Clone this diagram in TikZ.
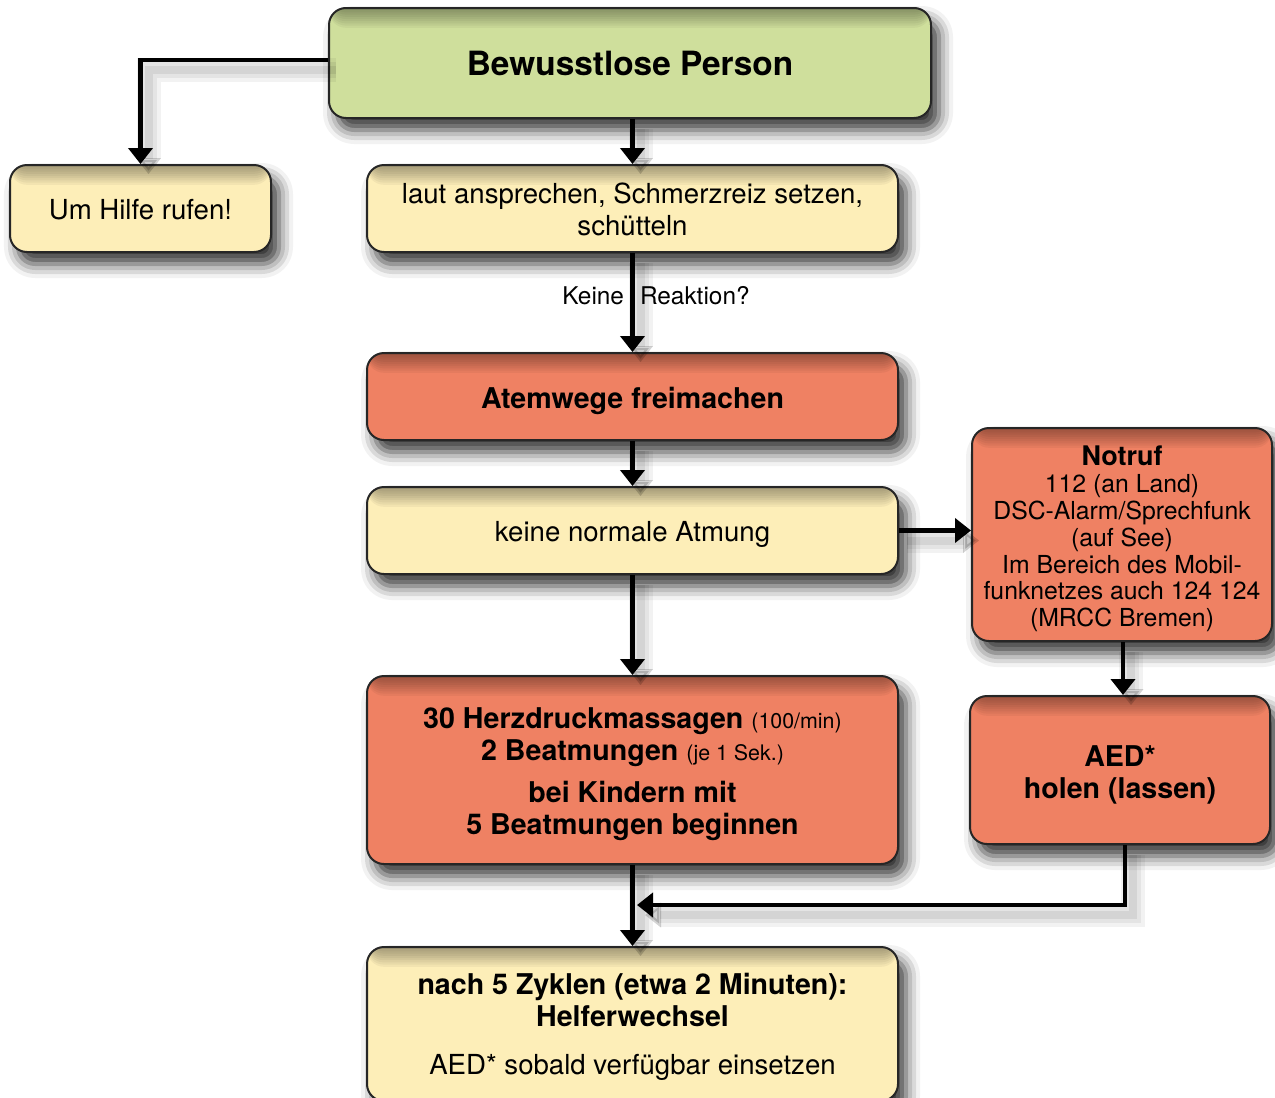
\documentclass[tikz,border=0pt]{standalone}
\usepackage{fontspec}
\setmainfont{TeX Gyre Heros}
\usetikzlibrary{arrows.meta,shadows.blur}
\definecolor{cgreen}{HTML}{CFDF9C}
\definecolor{cyellow}{HTML}{FDEEB8}
\definecolor{csalmon}{HTML}{EF8163}
\tikzset{
  box/.style={rectangle, rounded corners=8.5pt, draw=black!85, line width=1pt, fill=#1,
    inner sep=0pt,
    blur shadow={shadow xshift=4pt, shadow yshift=-6pt, shadow blur radius=7pt, shadow opacity=80},
    path picture={\foreach \k in {1,...,9}{\fill[black, opacity=0.045]
      (path picture bounding box.north west) rectangle ([yshift=-\k*1.1pt]path picture bounding box.north east);}}},
  conn/.style={line width=2.3pt, -{Triangle[width=12pt,length=8pt]},
    preaction={draw=black, opacity=0.05, line width=12pt, transform canvas={shift={(4pt,-5pt)}}},
    preaction={draw=black, opacity=0.06, line width=8pt, transform canvas={shift={(4pt,-5pt)}}},
    preaction={draw=black, opacity=0.07, line width=4pt, transform canvas={shift={(4pt,-5pt)}}}},
  txt/.style={align=center, inner sep=0pt, font=\fontsize{13.8}{16}\selectfont},
  btxt/.style={align=center, inner sep=0pt, font=\fontsize{14.3}{16}\selectfont\bfseries},
}
\begin{document}
\begin{tikzpicture}[x=0.5pt,y=-0.5pt]
\useasboundingbox (0,0) rectangle (1275,1098);
% boxes
\node[box=cgreen, minimum width=301pt, minimum height=55pt] (start) at (630,63) {};
\node[box=cyellow, minimum width=130.5pt, minimum height=43.5pt] (hilfe) at (140.5,208.5) {};
\node[box=cyellow, minimum width=265.5pt, minimum height=43.5pt] (laut) at (632.5,208.5) {};
\node[box=csalmon, minimum width=265.5pt, minimum height=43.5pt] (atem) at (632.5,396.5) {};
\node[box=cyellow, minimum width=265.5pt, minimum height=43.5pt] (keine) at (632.5,530.5) {};
\node[box=csalmon, minimum width=150pt, minimum height=106.5pt] (notruf) at (1122,534.5) {};
\node[box=csalmon, minimum width=150pt, minimum height=74pt] (aed) at (1120,770) {};
\node[box=csalmon, minimum width=265.5pt, minimum height=94pt] (herz) at (632.5,770) {};
\node[box=cyellow, minimum width=265.5pt, minimum height=77pt] (nach) at (632.5,1024) {};
% texts
\node[btxt, font=\fontsize{16.7}{18}\selectfont\bfseries] (startT) at ([yshift=0pt]start.center) {Bewusstlose Person};
\node[txt] (hilfeT) at ([yshift=-0.5pt]hilfe.center) {Um Hilfe rufen!};
\node[txt] (lautT) at ([yshift=-0.5pt]laut.center) {laut ansprechen, Schmerzreiz setzen,\\schütteln};
\node[btxt] (atemT) at ([yshift=-2.3pt]atem.center) {Atemwege freimachen};
\node[txt] (keineT) at ([yshift=-2pt]keine.center) {keine normale Atmung};
\node[txt, font=\fontsize{12.4}{13.4}\selectfont] (notrufT) at ([yshift=-2.3pt]notruf.center)
  {{\bfseries\fontsize{13.5}{13.4}\selectfont Notruf}\\112 (an Land)\\DSC-Alarm/Sprechfunk\\(auf See)\\Im Bereich des Mobil-\\funknetzes auch 124 124\\(MRCC Bremen)};
\node[btxt] (aedT) at ([yshift=-2.3pt]aed.center) {AED*\\holen (lassen)};
\node[btxt] (herzT) at ([yshift=-2pt]herz.center)
  {30 Herzdruckmassagen {\mdseries\fontsize{10.7}{16}\selectfont (100/min)}\\
   2 Beatmungen {\mdseries\fontsize{10.7}{16}\selectfont (je 1 Sek.)}\\[5pt]
   bei Kindern mit\\5 Beatmungen beginnen};
\node[btxt] (nachT) at ([yshift=-1.5pt]nach.center)
  {nach 5 Zyklen (etwa 2 Minuten):\\Helferwechsel\\[8pt]{\mdseries\fontsize{13.8}{16}\selectfont AED* sobald verfügbar einsetzen}};
% connectors
\coordinate (join) at (637,905);
\draw[conn] (start.west |- 0,60) -| (hilfe.north);
\draw[conn] (start.south -| laut.north) -- (laut.north);
\draw[conn] (laut.south) -- (atem.north);
\node[font=\fontsize{12.2}{14}\selectfont] (lbl) at (656,296) {Keine\hspace{8pt}Reaktion?};
\draw[conn] (atem.south) -- (keine.north);
\draw[conn] (keine.east) -- (notruf.west |- keine.east);
\draw[conn] (keine.south) -- (herz.north);
\draw[conn] (notruf.south -| 1123,0) -- (aed.north -| 1123,0);
\draw[conn] (herz.south) -- (nach.north);
\draw[conn] (aed.south -| 1125,0) |- (join);
\end{tikzpicture}
\end{document}
